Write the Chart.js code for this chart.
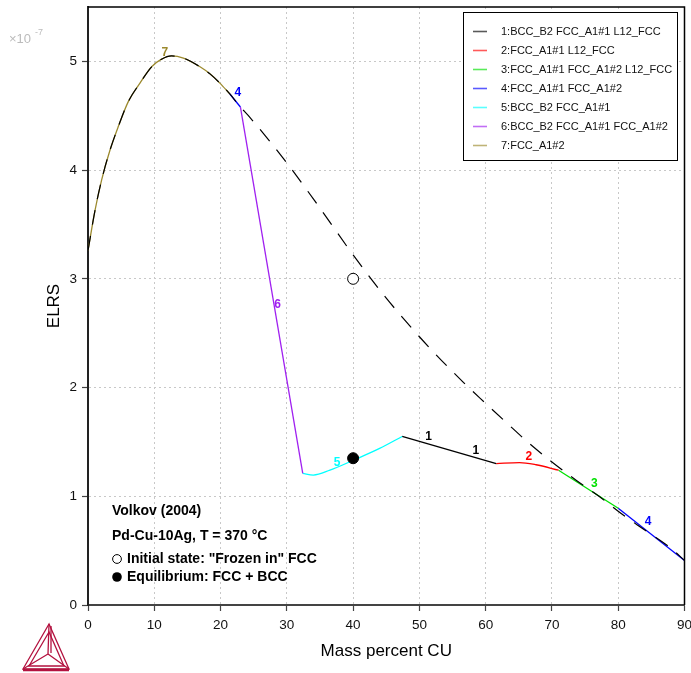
<!DOCTYPE html>
<html>
<head>
<meta charset="utf-8">
<script src="https://cdn.jsdelivr.net/npm/chart.js@4.4.0/dist/chart.umd.min.js"></script>
<style>
  html, body { margin: 0; padding: 0; background: #fff; }
  #wrap { width: 691px; height: 673px; }
</style>
</head>
<body>
<div id="wrap"><canvas id="chart" width="691" height="673"></canvas></div>
<script>
// axis ticks
const xTicks = [0, 10, 20, 30, 40, 50, 60, 70, 80, 90];
const yTicks = [0, 1, 2, 3, 4, 5];

// metastable "frozen in" FCC (dashed)
const frozenX = [0, 1.06, 2.06, 3.3, 4.57, 6.08, 7.84, 9.6, 11.1, 12.6, 14.4, 16.9, 18.4, 19.9, 21.4,
                 23.0, 24.2, 29.7, 35, 40, 44.5, 48.8, 52, 56.6, 59.9, 63, 66.5, 69.9, 73.7, 77.2, 80.7, 84, 88, 90];
const frozenY = [3.26, 3.63, 3.91, 4.18, 4.40, 4.63, 4.80, 4.95, 5.02, 5.05, 5.03, 4.95, 4.885, 4.80, 4.70,
                 4.58, 4.50, 4.09, 3.65, 3.22, 2.86, 2.55, 2.335, 2.05, 1.86, 1.685, 1.49, 1.32, 1.145, 0.995, 0.83, 0.69, 0.52, 0.41];

// equilibrium segments (values x 1e-7)
const seg7X = [0, 1.06, 2.06, 3.3, 4.57, 6.08, 7.84, 9.6, 11.1, 12.6, 14.4, 16.9, 18.4, 19.9, 21.4];
const seg7Y = [3.26, 3.63, 3.91, 4.18, 4.40, 4.63, 4.80, 4.95, 5.02, 5.05, 5.03, 4.95, 4.885, 4.80, 4.70];
const seg4aX = [21.4, 23.0];
const seg4aY = [4.70, 4.58];
const seg6X = [23.0, 32.4];
const seg6Y = [4.58, 1.21];
const seg5X = [32.4, 34.0, 36.5, 40.0, 44.0, 47.4];
const seg5Y = [1.21, 1.195, 1.24, 1.33, 1.44, 1.55];
const seg1X = [47.4, 61.6];
const seg1Y = [1.55, 1.30];
const seg2X = [61.6, 65.1, 67.6, 71.0];
const seg2Y = [1.30, 1.31, 1.29, 1.24];
const seg3X = [71.0, 80.0];
const seg3Y = [1.24, 0.89];
const seg4bX = [80.0, 90.0];
const seg4bY = [0.89, 0.41];

// experimental points
const frozenPtX = [40];
const frozenPtY = [3.0];
const equilPtX = [40];
const equilPtY = [1.35];

const seriesNames = ['1:BCC_B2 FCC_A1#1 L12_FCC', '2:FCC_A1#1 L12_FCC', '3:FCC_A1#1 FCC_A1#2 L12_FCC',
                     '4:FCC_A1#1 FCC_A1#2', '5:BCC_B2 FCC_A1#1', '6:BCC_B2 FCC_A1#1 FCC_A1#2', '7:FCC_A1#2'];
const seriesColors = ['#000000', '#ff0000', '#00e000', '#0000ff', '#00ffff', '#a020f0', '#9c8a2e'];

// curve number labels
const labelText = ['7', '4', '6', '5', '1', '1', '2', '3', '4'];
const labelX = [11.6, 22.6, 28.6, 37.6, 51.4, 58.5, 66.5, 76.4, 84.5];
const labelY = [5.08, 4.71, 2.76, 1.31, 1.55, 1.42, 1.36, 1.12, 0.77];
const labelSeries = [6, 3, 5, 4, 0, 0, 1, 2, 3];

const FONT = '"Liberation Sans", Arial, Helvetica, sans-serif';

function pts(xs, ys) {
    return xs.map((x, i) => ({ x: x, y: ys[i] }));
}

function seg(xs, ys, s, smooth) {
    return {
        label: seriesNames[s],
        data: pts(xs, ys),
        borderColor: seriesColors[s],
        borderWidth: 1.3,
        pointRadius: 0,
        cubicInterpolationMode: smooth ? 'monotone' : 'default',
        tension: 0,
        order: 2
    };
}

const extras = {
    id: 'extras',
    beforeDraw(chart) {
        const ctx = chart.ctx;
        ctx.save();
        ctx.fillStyle = '#fff';
        ctx.fillRect(0, 0, chart.width, chart.height);
        ctx.restore();
    },
    afterDatasetsDraw(chart) {
        const ctx = chart.ctx;
        const xs = chart.scales.x, ys = chart.scales.y;
        ctx.save();
        ctx.font = 'bold 12px ' + FONT;
        ctx.textAlign = 'center';
        ctx.textBaseline = 'middle';
        labelText.forEach((t, i) => {
            ctx.fillStyle = seriesColors[labelSeries[i]];
            ctx.fillText(t, xs.getPixelForValue(labelX[i]), ys.getPixelForValue(labelY[i]));
        });
        ctx.restore();
    },
    afterDraw(chart) {
        const ctx = chart.ctx;
        const a = chart.chartArea;
        ctx.save();

        // top / right frame
        ctx.strokeStyle = '#000';
        ctx.lineWidth = 1.5;
        ctx.beginPath();
        ctx.moveTo(a.left, a.top);
        ctx.lineTo(a.right, a.top);
        ctx.lineTo(a.right, a.bottom);
        ctx.stroke();

        // legend box
        ctx.fillStyle = '#fff';
        ctx.fillRect(463, 12, 215, 148);
        ctx.lineWidth = 1;
        ctx.strokeStyle = '#000';
        ctx.strokeRect(463.5, 12.5, 214, 148);
        ctx.font = '11px ' + FONT;
        ctx.textAlign = 'left';
        ctx.textBaseline = 'middle';
        seriesNames.forEach((n, i) => {
            const y = 31.5 + i * 19;
            ctx.globalAlpha = 0.65;
            ctx.strokeStyle = seriesColors[i];
            ctx.lineWidth = 1.6;
            ctx.beginPath();
            ctx.moveTo(473, y);
            ctx.lineTo(487, y);
            ctx.stroke();
            ctx.globalAlpha = 1;
            ctx.fillStyle = '#111';
            ctx.fillText(n, 501, y + 0.5);
        });

        // annotations
        ctx.fillStyle = '#000';
        ctx.font = 'bold 14px ' + FONT;
        ctx.fillText('Volkov (2004)', 112, 511);
        ctx.fillText('Pd-Cu-10Ag, T = 370 \u00B0C', 112, 536);
        ctx.fillText('Initial state: "Frozen in" FCC', 127, 559);
        ctx.fillText('Equilibrium: FCC + BCC', 127, 577);
        ctx.lineWidth = 1;
        ctx.strokeStyle = '#000';
        ctx.beginPath();
        ctx.arc(117, 559, 4.4, 0, Math.PI * 2);
        ctx.stroke();
        ctx.beginPath();
        ctx.arc(117, 577, 4.8, 0, Math.PI * 2);
        ctx.fill();

        // axis titles
        ctx.fillStyle = '#000';
        ctx.textAlign = 'center';
        ctx.font = '17px ' + FONT;
        ctx.fillText('Mass percent CU', (a.left + a.right) / 2, 651);
        ctx.save();
        ctx.translate(54, (a.top + a.bottom) / 2);
        ctx.rotate(-Math.PI / 2);
        ctx.fillText('ELRS', 0, 0);
        ctx.restore();

        // exponent
        ctx.fillStyle = '#bbb';
        ctx.textAlign = 'left';
        ctx.textBaseline = 'alphabetic';
        ctx.font = '13px ' + FONT;
        ctx.fillText('\u00D710', 9, 43);
        ctx.font = '9px ' + FONT;
        ctx.fillText('-7', 35, 35);

        // logo
        ctx.strokeStyle = '#b3123f';
        ctx.lineWidth = 1.3;
        const A = [49, 624], B = [23, 669], C = [69, 669], M = [48, 654];
        ctx.beginPath();
        ctx.moveTo(A[0], A[1]); ctx.lineTo(B[0], B[1]); ctx.lineTo(C[0], C[1]); ctx.closePath();
        ctx.stroke();
        ctx.beginPath();
        ctx.moveTo(49, 632); ctx.lineTo(29, 666); ctx.lineTo(64, 666); ctx.closePath();
        ctx.stroke();
        ctx.beginPath();
        ctx.moveTo(A[0], A[1]); ctx.lineTo(M[0], M[1]);
        ctx.moveTo(B[0], B[1]); ctx.lineTo(M[0], M[1]);
        ctx.moveTo(C[0], C[1]); ctx.lineTo(M[0], M[1]);
        ctx.moveTo(51, 626); ctx.lineTo(51, 653);
        ctx.stroke();
        ctx.lineWidth = 2.5;
        ctx.beginPath();
        ctx.moveTo(23, 670); ctx.lineTo(69, 670);
        ctx.stroke();

        ctx.restore();
    }
};

const ctx = document.getElementById('chart').getContext('2d');
new Chart(ctx, {
    type: 'line',
    data: {
        datasets: [
            {
                label: 'Frozen in FCC',
                data: pts(frozenX, frozenY),
                borderColor: '#000',
                borderWidth: 1.2,
                borderDash: [15, 11],
                pointRadius: 0,
                cubicInterpolationMode: 'monotone',
                order: 1
            },
            seg(seg7X, seg7Y, 6, true),
            seg(seg4aX, seg4aY, 3, false),
            seg(seg6X, seg6Y, 5, false),
            seg(seg5X, seg5Y, 4, true),
            seg(seg1X, seg1Y, 0, false),
            seg(seg2X, seg2Y, 1, true),
            seg(seg3X, seg3Y, 2, false),
            seg(seg4bX, seg4bY, 3, false),
            {
                label: 'Initial state',
                data: pts(frozenPtX, frozenPtY),
                showLine: false,
                pointRadius: 5.5,
                pointBackgroundColor: '#fff',
                pointBorderColor: '#000',
                pointBorderWidth: 1,
                order: 0
            },
            {
                label: 'Equilibrium',
                data: pts(equilPtX, equilPtY),
                showLine: false,
                pointRadius: 5.5,
                pointBackgroundColor: '#000',
                pointBorderColor: '#000',
                order: 0
            }
        ]
    },
    options: {
        responsive: false,
        animation: false,
        devicePixelRatio: 1,
        layout: { padding: { top: 7, right: 6, left: 0, bottom: 0 } },
        plugins: {
            legend: { display: false },
            tooltip: { enabled: false }
        },
        scales: {
            x: {
                type: 'linear',
                min: 0,
                max: 90,
                afterBuildTicks: s => { s.ticks = xTicks.map(v => ({ value: v })); },
                afterFit: s => { s.height = 68; s.paddingLeft = 0; s.paddingRight = 0; },
                ticks: { autoSkip: false, maxRotation: 0, padding: 6, color: '#111', font: { family: FONT, size: 13.5 } },
                grid: { color: '#c8c8c8', lineWidth: 1, tickLength: 6, tickColor: '#444', tickWidth: 1.2 },
                border: { color: '#444', width: 2, dash: [2, 3] }
            },
            y: {
                type: 'linear',
                min: 0,
                max: 5.5,
                afterBuildTicks: s => { s.ticks = yTicks.map(v => ({ value: v })); },
                afterFit: s => { s.width = 88; s.paddingTop = 0; s.paddingBottom = 0; },
                ticks: { autoSkip: false, padding: 5, color: '#111', font: { family: FONT, size: 13.5 } },
                grid: { color: '#c8c8c8', lineWidth: 1, tickLength: 6, tickColor: '#444', tickWidth: 1.2 },
                border: { color: '#222', width: 2, dash: [2, 3] }
            }
        }
    },
    plugins: [extras]
});
</script>
</body>
</html>
